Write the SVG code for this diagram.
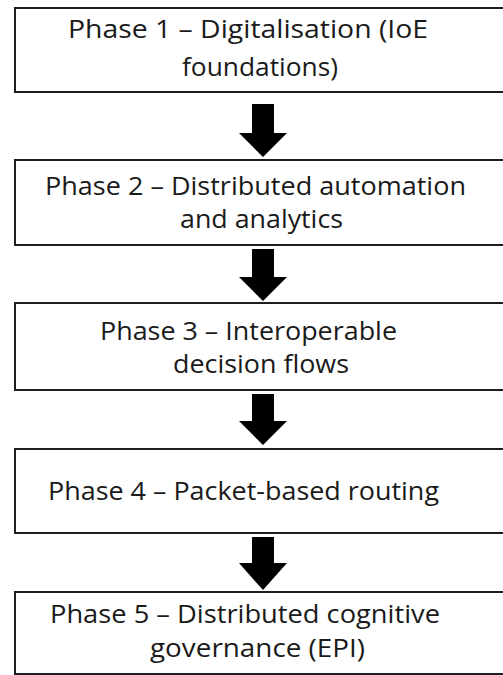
<svg xmlns="http://www.w3.org/2000/svg" width="503" height="675" viewBox="0 0 503 675">
  <style>
    .box { fill: #ffffff; stroke: #1e1e1e; stroke-width: 2; }
    .lbl { font-family: "Open Sans", "Liberation Sans", sans-serif; font-size: 26px; fill: #1a1a1a; }
    .arrow { fill: #000000; }
  </style>
  <rect width="503" height="675" fill="#ffffff"/>

  <g id="phase1">
    <rect class="box" x="15" y="8" width="520" height="84"/>
    <text class="lbl" x="68" y="38" textLength="360" lengthAdjust="spacingAndGlyphs">Phase 1 – Digitalisation (IoE</text>
    <text class="lbl" x="182" y="76" textLength="156" lengthAdjust="spacingAndGlyphs">foundations)</text>
  </g>

  <g id="phase2">
    <rect class="box" x="15" y="160" width="520" height="85"/>
    <text class="lbl" x="45" y="195" textLength="421" lengthAdjust="spacingAndGlyphs">Phase 2 – Distributed automation</text>
    <text class="lbl" x="180" y="228" textLength="163" lengthAdjust="spacingAndGlyphs">and analytics</text>
  </g>

  <g id="phase3">
    <rect class="box" x="15" y="303" width="520" height="87"/>
    <text class="lbl" x="100" y="340" textLength="297" lengthAdjust="spacingAndGlyphs">Phase 3 – Interoperable</text>
    <text class="lbl" x="173" y="373" textLength="176" lengthAdjust="spacingAndGlyphs">decision flows</text>
  </g>

  <g id="phase4">
    <rect class="box" x="15" y="449" width="520" height="84"/>
    <text class="lbl" x="48" y="500" textLength="391" lengthAdjust="spacingAndGlyphs">Phase 4 – Packet-based routing</text>
  </g>

  <g id="phase5">
    <rect class="box" x="15" y="592" width="520" height="82"/>
    <text class="lbl" x="50" y="623" textLength="390" lengthAdjust="spacingAndGlyphs">Phase 5 – Distributed cognitive</text>
    <text class="lbl" x="150" y="657" textLength="215" lengthAdjust="spacingAndGlyphs">governance (EPI)</text>
  </g>

  <g id="connectors">
    <polygon class="arrow" points="252,104 274,104 274,133 287,133 263,157 239,133 252,133"/>
    <polygon class="arrow" points="252,249 274,249 274,277 287,277 263,301 239,277 252,277"/>
    <polygon class="arrow" points="252,394 274,394 274,421 287,421 263,445 239,421 252,421"/>
    <polygon class="arrow" points="252,537 274,537 274,563 287,563 263,590 239,563 252,563"/>
  </g>
</svg>
